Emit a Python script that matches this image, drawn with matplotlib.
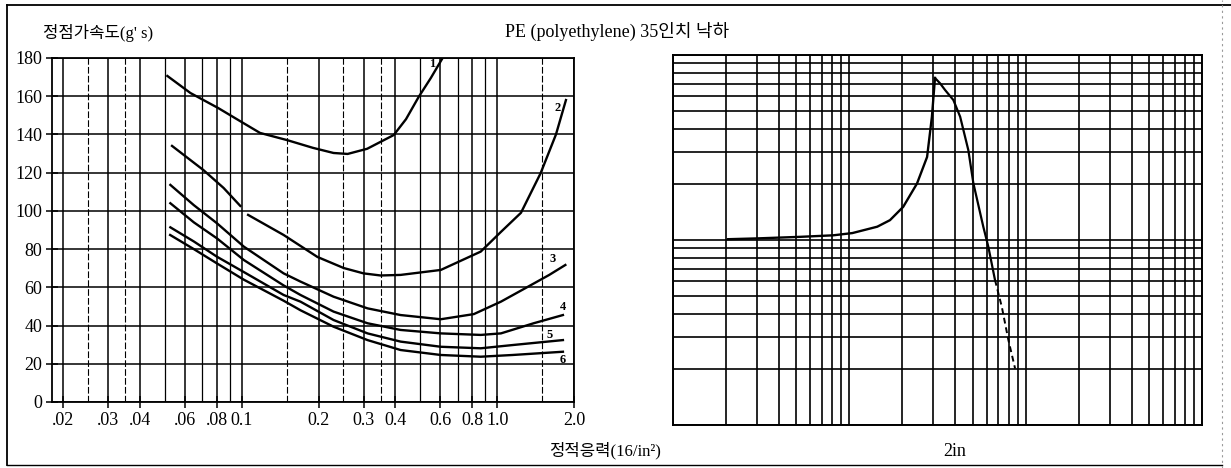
import matplotlib
matplotlib.use("Agg")
import matplotlib.pyplot as plt
from matplotlib.lines import Line2D
from matplotlib.ticker import FixedLocator, LogLocator, NullFormatter

plt.rcParams['font.family'] = ['Liberation Serif', 'Noto Sans CJK KR']

# left panel: static acceleration (g's) vs static stress, curves 1..6
c1_x = [0.0512, 0.063, 0.081, 0.1, 0.118, 0.151, 0.19, 0.229, 0.26, 0.31, 0.394, 0.44, 0.493, 0.55, 0.612]
c1_y = [170.6, 161.7, 153.8, 146.5, 140.8, 137.0, 133.0, 130.3, 129.8, 132.5, 139.7, 148.0, 159.6, 169.5, 180.0]

c2a_x = [0.0534, 0.0708, 0.085, 0.0988]
c2a_y = [134.0, 121.4, 112.0, 102.6]
c2b_x = [0.106, 0.146, 0.198, 0.251, 0.300, 0.35, 0.419, 0.602, 0.863, 1.035, 1.24, 1.48, 1.7, 1.86]
c2b_y = [97.9, 87.4, 75.9, 70.1, 67.3, 66.2, 66.5, 69.1, 78.7, 89.0, 99.0, 119.7, 140.0, 158.0]

c3_x = [0.0526, 0.065, 0.0801, 0.102, 0.146, 0.17, 0.229, 0.311, 0.419, 0.602, 0.811, 1.035, 1.32, 1.6, 1.85]
c3_y = [113.6, 103.0, 93.5, 81.3, 67.3, 63.0, 55.1, 49.0, 45.5, 43.3, 46.0, 52.5, 60.3, 66.5, 71.7]

c4_x = [0.0526, 0.065, 0.0801, 0.102, 0.146, 0.17, 0.229, 0.311, 0.419, 0.602, 0.863, 1.035, 1.39, 1.81]
c4_y = [104.0, 94.0, 85.6, 74.3, 61.0, 56.0, 47.3, 41.2, 37.7, 35.9, 35.1, 35.9, 41.2, 45.5]

c5_x = [0.0526, 0.065, 0.0801, 0.102, 0.146, 0.17, 0.229, 0.311, 0.419, 0.602, 0.863, 1.15, 1.81]
c5_y = [91.4, 84.0, 76.0, 68.0, 56.0, 52.5, 42.9, 35.9, 31.6, 28.9, 28.1, 29.8, 32.4]

c6_x = [0.0525, 0.065, 0.0801, 0.102, 0.146, 0.17, 0.229, 0.311, 0.419, 0.602, 0.863, 1.15, 1.81]
c6_y = [87.4, 80.0, 72.5, 64.0, 53.0, 48.0, 39.4, 32.4, 27.2, 24.6, 23.7, 24.6, 26.3]

curve_names = ['1', '2', '3', '4', '5', '6']
name_x = [0.555, 1.73, 1.65, 1.81, 1.60, 1.81]
name_y = [177, 154, 74.7, 49.9, 35, 22]

x_ticks = [0.02, 0.03, 0.04, 0.06, 0.08, 0.1, 0.2, 0.3, 0.4, 0.6, 0.8, 1.0, 2.0]
x_tick_labels = ['.02', '.03', '.04', '.06', '.08', '0.1', '0.2', '0.3', '0.4', '0.6', '0.8', '1.0', '2.0']
x_minor = [0.05, 0.07, 0.09, 0.5, 0.7, 0.9]
x_half = [0.025, 0.035, 0.15, 0.25, 0.35, 1.5]
y_ticks = [0, 20, 40, 60, 80, 100, 120, 140, 160, 180]

# right panel: 2in cushion curve on log-log paper
rise_x = [2.05, 2.99, 5.25, 8.1, 10.4, 14.4, 17.0, 20.2, 24.2, 27.6, 29.4, 30.6]
rise_y = [10.1, 10.2, 10.4, 10.6, 10.9, 11.8, 12.8, 15.1, 20.2, 28.1, 46.4, 75.1]
fall_x = [30.6, 32.7, 34.9, 38.9, 42.5, 47.3, 50.5, 57.5, 61.4, 67.0]
fall_y = [75.1, 70.3, 64.7, 57.1, 46.4, 30.6, 20.3, 11.8, 9.2, 6.08]
tail_x = [67.0, 73.2, 79.8, 87.1]
tail_y = [6.08, 4.36, 2.88, 2.02]

W, H = 1231, 468
fig = plt.figure(figsize=(W / 100, H / 100), dpi=100)

def px(x, y):
    return x / W, 1 - y / H

# ---- left panel
ax1 = fig.add_axes([52 / W, 1 - 402 / H, (574 - 52) / W, (402 - 58) / H])
ax1.set_xscale('log')
ax1.set_xlim(0.0181, 2.0)
ax1.set_ylim(0, 180)
ax1.xaxis.set_major_locator(FixedLocator(x_ticks))
ax1.set_xticklabels(x_tick_labels)
ax1.xaxis.set_minor_locator(FixedLocator(x_minor))
ax1.xaxis.set_minor_formatter(NullFormatter())
ax1.set_yticks(y_ticks)
ax1.grid(True, which='major', color='black', lw=1.1)
ax1.grid(True, which='minor', axis='x', color='black', lw=0.9)
for xv in x_half:
    ax1.axvline(xv, color='black', lw=0.8, ls=(0, (6, 2)))
ax1.tick_params(axis='both', which='major', direction='inout', length=8, width=1.1,
                labelsize=13, pad=3, colors='black')
ax1.tick_params(axis='x', which='minor', length=0)
for s in ax1.spines.values():
    s.set_linewidth(1.3)

lw = 1.7
ax1.plot(c1_x, c1_y, color='black', lw=lw)
ax1.plot(c2a_x, c2a_y, color='black', lw=lw)
ax1.plot(c2b_x, c2b_y, color='black', lw=lw)
ax1.plot(c3_x, c3_y, color='black', lw=lw)
ax1.plot(c4_x, c4_y, color='black', lw=lw)
ax1.plot(c5_x, c5_y, color='black', lw=lw)
ax1.plot(c6_x, c6_y, color='black', lw=lw)
for n, xv, yv in zip(curve_names, name_x, name_y):
    ax1.text(xv, yv, n, fontsize=9, fontweight='bold', ha='center', va='center')

# ---- right panel
ax2 = fig.add_axes([673 / W, 1 - 425 / H, (1202 - 673) / W, (425 - 55) / H])
ax2.set_xscale('log')
ax2.set_yscale('log')
ax2.set_xlim(1, 1000)
ax2.set_ylim(1, 100)
for axis in (ax2.xaxis, ax2.yaxis):
    axis.set_major_locator(LogLocator(base=10))
    axis.set_minor_locator(LogLocator(base=10, subs=range(2, 10)))
    axis.set_major_formatter(NullFormatter())
    axis.set_minor_formatter(NullFormatter())
ax2.grid(True, which='both', color='black', lw=1.2)
ax2.tick_params(which='both', length=0)
for s in ax2.spines.values():
    s.set_linewidth(1.4)
ax2.plot(rise_x, rise_y, color='black', lw=1.7)
ax2.plot(fall_x, fall_y, color='black', lw=1.6)
ax2.plot(tail_x, tail_y, color='black', lw=1.4, ls=(0, (3, 2)))

# ---- texts
fig.text(*px(43, 33), "정점가속도(g' s)", fontsize=12, ha='left', va='center')
fig.text(*px(617, 31), 'PE (polyethylene) 35인치 낙하', fontsize=13, ha='center', va='center')
fig.text(*px(605, 451), '정적응력(16/in²)', fontsize=12, ha='center', va='center')
fig.text(*px(955, 451), '2in', fontsize=13, ha='center', va='center')

# ---- page frame
fig.add_artist(Line2D([7 / W, 7 / W], [1 - 5 / H, 1 - 465 / H], color='black', lw=1.3))
fig.add_artist(Line2D([7 / W, 1], [1 - 5 / H, 1 - 5 / H], color='black', lw=1.3))
fig.add_artist(Line2D([7 / W, 1222 / W], [1 - 465 / H, 1 - 465 / H], color='black', lw=1.0))
fig.add_artist(Line2D([1222 / W, 1222 / W], [0, 1], color='0.6', lw=0.8, ls=(0, (2, 3))))

fig.savefig('out.png', dpi=100)
